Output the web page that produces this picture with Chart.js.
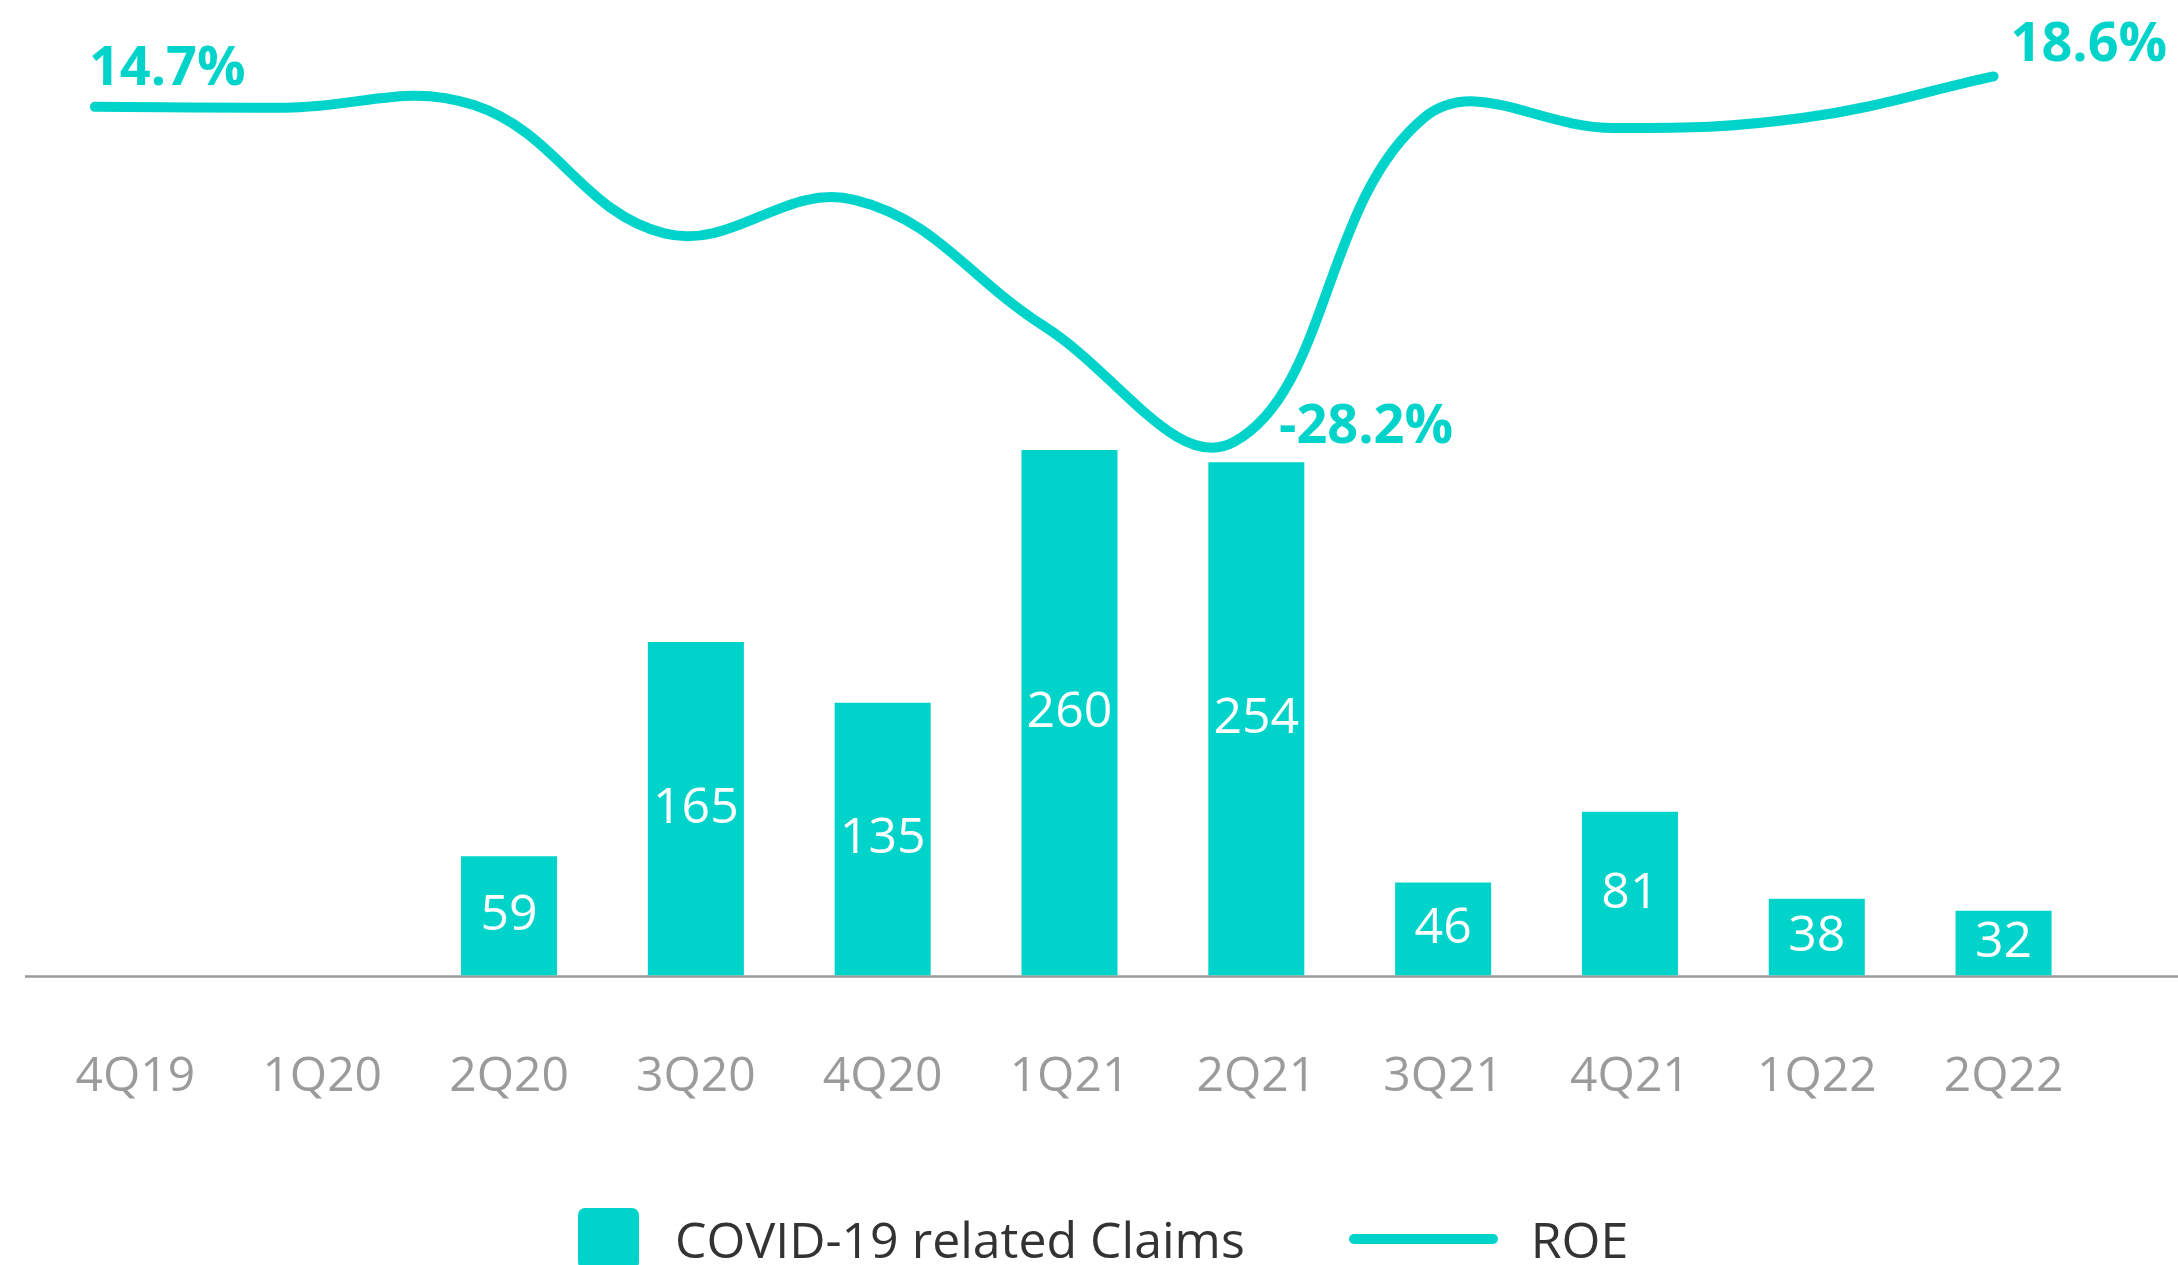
<!DOCTYPE html>
<html lang="en">
<head>
  <meta charset="UTF-8">
  <title>COVID-19 related Claims and ROE</title>
  <script src="https://cdn.jsdelivr.net/npm/chart.js"></script>
  <style>
    body { margin: 0; background: #fff; }
    #wrap { position: relative; width: 2178px; height: 1265px; overflow: hidden; }
    #legend {
      position: absolute; left: 578px; top: 1208px; height: 61px;
      display: flex; align-items: center;
      font-family: "Open Sans", sans-serif; font-size: 50px; color: #333;
    }
    #legend .item { display: flex; align-items: center; }
    #legend .item + .item { margin-left: 104px; }
    #legend .box { width: 61px; height: 61px; border-radius: 7px; margin-right: 36px; }
    #legend .line { width: 149px; height: 10px; border-radius: 5px; margin-right: 33px; }
  </style>
</head>
<body>
  <div id="wrap">
    <canvas id="chart" width="2178" height="1265"></canvas>
    <div id="legend"></div>
  </div>
  <script>
    const quarters = ['4Q19', '1Q20', '2Q20', '3Q20', '4Q20', '1Q21', '2Q21', '3Q21', '4Q21', '1Q22', '2Q22'];
    const claims = [null, null, 59, 165, 135, 260, 254, 46, 81, 38, 32];
    const roe = [14.7, 14.6, 14.9, -1.5, 2.8, -13.4, -28.2, 13.3, 12.0, 13.3, 18.6];
    const roeLabelIdx = [0, 6, 10];

    const teal = '#00d3ca';
    const font = '"Open Sans", sans-serif';

    // grey base line running under the bars to the right edge
    const baseLine = {
      id: 'baseLine',
      beforeDatasetsDraw(chart) {
        const ctx = chart.ctx;
        const y = chart.scales.y.getPixelForValue(0) + 1;
        ctx.save();
        ctx.strokeStyle = '#9a9a9a';
        ctx.lineWidth = 2.5;
        ctx.beginPath();
        ctx.moveTo(25, y);
        ctx.lineTo(chart.width, y);
        ctx.stroke();
        ctx.restore();
      }
    };

    // white numbers in the bars, ROE callouts next to the line
    const labels = {
      id: 'labels',
      afterDatasetsDraw(chart) {
        const ctx = chart.ctx;
        ctx.save();
        ctx.fillStyle = '#fff';
        ctx.font = '50px ' + font;
        ctx.textAlign = 'center';
        ctx.textBaseline = 'middle';
        chart.getDatasetMeta(0).data.forEach((bar, i) => {
          if (claims[i] == null) return;
          ctx.fillText(claims[i], bar.x, (bar.y + bar.base) / 2);
        });

        const offs = { 0: [-6, -37], 6: [45, -14], 10: [17, -31] };
        const pts = chart.getDatasetMeta(1).data;
        ctx.fillStyle = teal;
        ctx.font = 'bold 54px ' + font;
        ctx.textAlign = 'left';
        roeLabelIdx.forEach(i => {
          const p = pts[i];
          ctx.fillText(roe[i].toFixed(1) + '%', p.x + offs[i][0], p.y + offs[i][1]);
        });
        ctx.restore();
      }
    };

    const chart = new Chart(document.getElementById('chart'), {
      type: 'bar',
      data: {
        labels: quarters,
        datasets: [{
          label: 'COVID-19 related Claims',
          data: claims,
          backgroundColor: teal,
          grouped: false,
          barPercentage: 0.514,
          categoryPercentage: 1,
          order: 1
        }, {
          type: 'line',
          label: 'ROE',
          data: roe.map((v, i) => ({ x: i, y: v })),
          xAxisID: 'x2',
          yAxisID: 'y2',
          borderColor: teal,
          backgroundColor: teal,
          borderWidth: 10,
          borderCapStyle: 'round',
          borderJoinStyle: 'round',
          tension: 0.4,
          pointRadius: 0,
          clip: false,
          order: 0
        }]
      },
      options: {
        responsive: false,
        animation: false,
        layout: { padding: { top: 40, left: 42, right: 81, bottom: 86 } },
        plugins: { legend: { display: false }, tooltip: { enabled: false } },
        scales: {
          x: {
            offset: true,
            grid: { display: false, drawTicks: false },
            border: { display: false },
            ticks: { color: '#9b9b9b', padding: 73, font: { family: font, size: 48, lineHeight: 1.2 } }
          },
          x2: {
            type: 'linear', display: false, offset: false,
            grid: { offset: false }, min: -0.2786, max: 10.545
          },
          y: { display: false, min: 0, max: 463 },
          y2: { display: false, min: -96.5, max: 23.26 }
        }
      },
      plugins: [baseLine, labels]
    });

    document.getElementById('legend').innerHTML = chart.data.datasets.map(ds =>
      '<div class="item"><span class="' + (ds.type === 'line' ? 'line' : 'box') +
      '" style="background:' + ds.backgroundColor + '"></span>' + ds.label + '</div>'
    ).join('');
  </script>
</body>
</html>
